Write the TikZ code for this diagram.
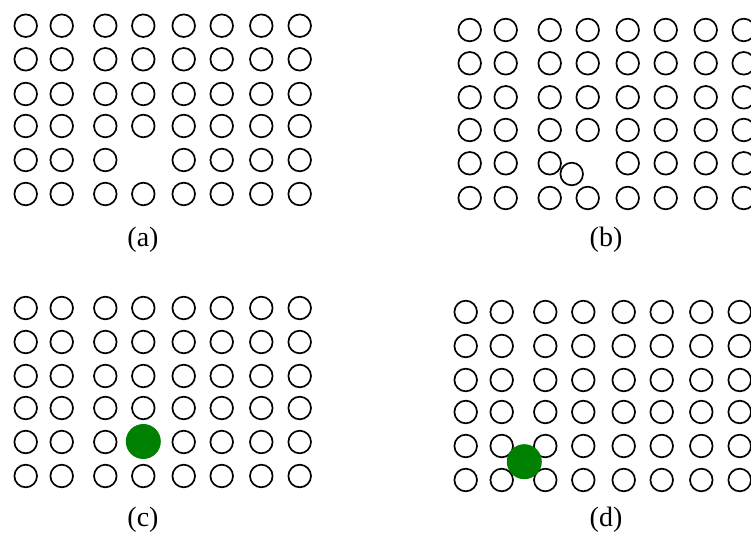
\documentclass[tikz,border=0pt]{standalone}
\usepackage{fontspec}
\setmainfont{Liberation Serif}
\definecolor{ballgreen}{RGB}{0,128,0}
\begin{document}
\begin{tikzpicture}[x=1pt,y=-1pt,
  ring/.style={circle,draw=black,line width=1.7pt,minimum size=22.6pt,inner sep=0pt,outer sep=0pt},
  ball/.style={circle,fill=ballgreen,minimum size=35pt,inner sep=0pt,outer sep=0pt},
  caption/.style={font=\fontsize{28}{32}\selectfont,inner sep=0pt,anchor=base}]
\useasboundingbox (0,0) rectangle (751,534);
\fill[white] (0,0) rectangle (751,534);
% panel (a)
\foreach \x [count=\i] in {25.7,61.7,105.3,143.3,183.7,221.7,261.3,299.7}{
  \foreach \y [count=\j] in {25.7,59.3,94,126,160,194}{
    \ifnum\numexpr\i*10+\j\relax=45 \else
      \node[ring] (a-\i-\j) at (\x,\y) {};
    \fi
  }}
\node[caption] (capa) at (143,247) {(a)};
% panel (b)
\foreach \x [count=\i] in {469.7,505.7,549.7,587.7,627.7,665.7,705.7,743.7}{
  \foreach \y [count=\j] in {30,63.3,97.3,130,163.3,198}{
    \ifnum\numexpr\i*10+\j\relax=45 \else
      \node[ring] (b-\i-\j) at (\x,\y) {};
    \fi
  }}
\node[ring] (b-moved) at (571.7,174) {};
\node[caption] (capb) at (606,247) {(b)};
% panel (c)
\foreach \x [count=\i] in {25.7,61.7,105.3,143.3,183.7,221.7,261.3,299.7}{
  \foreach \y [count=\j] in {308,342,376,408,442,476}{
    \ifnum\numexpr\i*10+\j\relax=45 \else
      \node[ring] (c-\i-\j) at (\x,\y) {};
    \fi
  }}
\node[ball] (c-ball) at (143.3,441.5) {};
\node[caption] (capc) at (143,526) {(c)};
% panel (d)
\foreach \x [count=\i] in {465.7,501.7,545.3,583.3,623.7,661.7,701.3,739.7}{
  \foreach \y [count=\j] in {312,346,380,412,446,480}{
    \node[ring] (d-\i-\j) at (\x,\y) {};
  }}
\node[ball] (d-ball) at (524.3,461.7) {};
\node[caption] (capd) at (606,526) {(d)};
\end{tikzpicture}
\end{document}
